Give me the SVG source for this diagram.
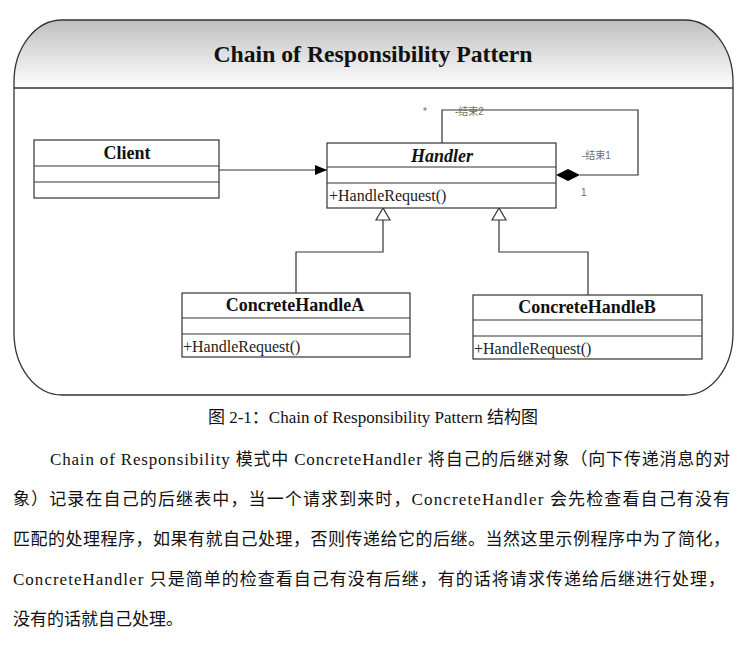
<svg xmlns="http://www.w3.org/2000/svg" width="748" height="650" viewBox="0 0 748 650">
<defs>
<linearGradient id="hdr" x1="0" y1="0" x2="0" y2="1">
<stop offset="0" stop-color="#bfbfbf"/>
<stop offset="1" stop-color="#ffffff"/>
</linearGradient>
<marker id="arrow" markerWidth="12" markerHeight="10" refX="12" refY="5" orient="auto" markerUnits="userSpaceOnUse">
<path d="M0,0 L12,5 L0,10 Z" fill="#000"/>
</marker>
</defs>
<style>
.box{fill:#fff;stroke:#333;stroke-width:1.2}
.line{stroke:#333;stroke-width:1.2;fill:none}
.name{font-family:'Liberation Serif',serif;font-weight:bold;font-size:18px;text-anchor:middle;fill:#111}
.op{font-family:'Liberation Serif',serif;font-size:16px;fill:#222}
.lbl{font-family:'Liberation Sans','Noto Sans CJK SC',sans-serif;font-size:10px;fill:#6e6e6e}
.body{font-family:'Liberation Serif','Noto Sans CJK SC',serif;font-size:17px;fill:#111}
.gen{fill:#fff;stroke:#333;stroke-width:1.2}
</style>

<g id="frame">
<path d="M14,88 L14,82 A48,62 0 0 1 62,20 L685,20 A48,62 0 0 1 733,82 L733,88 Z" fill="url(#hdr)" stroke="none"/>
<path d="M62,20 L685,20 A48,62 0 0 1 733,82 L733,333 A48,62 0 0 1 685,395 L62,395 A48,62 0 0 1 14,333 L14,82 A48,62 0 0 1 62,20 Z" fill="none" stroke="#333" stroke-width="1.3"/>
<line x1="14" y1="88" x2="733" y2="88" stroke="#333" stroke-width="1.3"/>
<text x="373" y="62" font-family="'Liberation Serif',serif" font-weight="bold" font-size="23.5" text-anchor="middle" fill="#111" textLength="319" lengthAdjust="spacingAndGlyphs">Chain of Responsibility Pattern</text>
</g>

<g id="connectors">
<line class="line" x1="219" y1="170" x2="327" y2="170" marker-end="url(#arrow)"/>
<polyline class="line" points="442,143 442,110 638,110 638,175 580,175"/>
<path d="M556,175 L568,169 L580,175 L568,181 Z" fill="#000"/>
<polyline class="line" points="383,220 383,252 296,252 296,293"/>
<polyline class="line" points="499,220 499,252 588,252 588,295"/>
<path class="gen" d="M383,208 L376,220 L390,220 Z"/>
<path class="gen" d="M499,208 L492,220 L506,220 Z"/>
<text class="lbl" x="423" y="115">*</text>
<text class="lbl" x="455" y="115">-结束2</text>
<text class="lbl" x="582" y="159">-结束1</text>
<text class="lbl" x="581" y="196">1</text>
</g>

<g id="client">
<rect class="box" x="34" y="140" width="185" height="58"/>
<line class="line" x1="34" y1="166" x2="219" y2="166"/>
<line class="line" x1="34" y1="182" x2="219" y2="182"/>
<text class="name" x="127" y="159">Client</text>
</g>

<g id="handler">
<rect class="box" x="327" y="143" width="229" height="65"/>
<line class="line" x1="327" y1="167" x2="556" y2="167"/>
<line class="line" x1="327" y1="183" x2="556" y2="183"/>
<text class="name" x="442" y="162" font-style="italic">Handler</text>
<text class="op" x="329" y="201">+HandleRequest()</text>
</g>

<g id="concreteA">
<rect class="box" x="182" y="293" width="228" height="64"/>
<line class="line" x1="182" y1="318" x2="410" y2="318"/>
<line class="line" x1="182" y1="334" x2="410" y2="334"/>
<text class="name" x="295" y="311">ConcreteHandleA</text>
<text class="op" x="183" y="352">+HandleRequest()</text>
</g>

<g id="concreteB">
<rect class="box" x="473" y="295" width="229" height="64"/>
<line class="line" x1="473" y1="320" x2="702" y2="320"/>
<line class="line" x1="473" y1="336" x2="702" y2="336"/>
<text class="name" x="587" y="313">ConcreteHandleB</text>
<text class="op" x="474" y="354">+HandleRequest()</text>
</g>

<g id="caption">
<text class="body" x="373" y="423" font-size="16.5" text-anchor="middle">图 2-1：Chain of Responsibility Pattern 结构图</text>
</g>

<g id="paragraph">
<text class="body" x="50" y="465" textLength="680" lengthAdjust="spacing">Chain of Responsibility 模式中 ConcreteHandler 将自己的后继对象（向下传递消息的对</text>
<text class="body" x="13" y="505" textLength="717" lengthAdjust="spacing">象）记录在自己的后继表中，当一个请求到来时，ConcreteHandler 会先检查看自己有没有</text>
<text class="body" x="13" y="545" textLength="717" lengthAdjust="spacing">匹配的处理程序，如果有就自己处理，否则传递给它的后继。当然这里示例程序中为了简化，</text>
<text class="body" x="13" y="585" textLength="712" lengthAdjust="spacing">ConcreteHandler 只是简单的检查看自己有没有后继，有的话将请求传递给后继进行处理，</text>
<text class="body" x="13" y="625">没有的话就自己处理。</text>
</g>
</svg>
